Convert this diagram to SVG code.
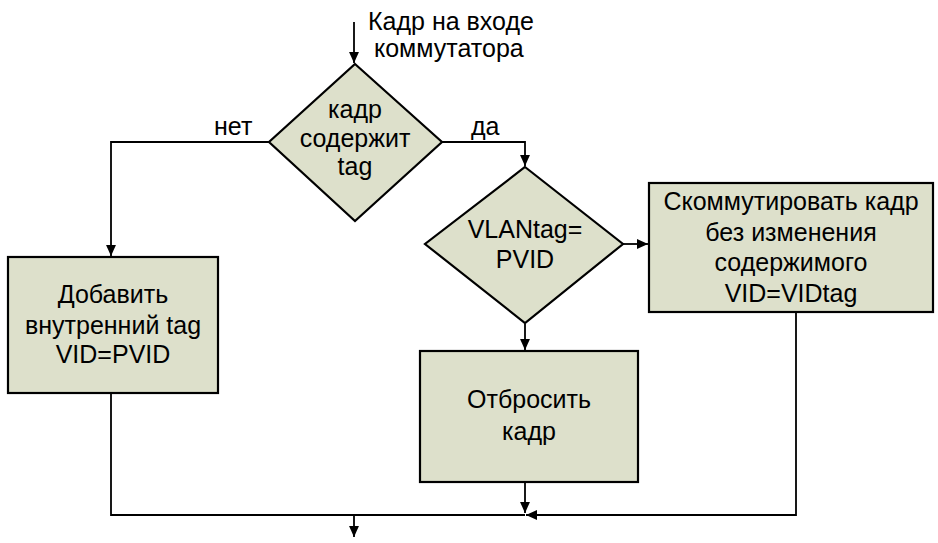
<svg xmlns="http://www.w3.org/2000/svg" width="938" height="543" viewBox="0 0 938 543">
  <style>
    .shape { fill: #dde0cb; stroke: #000; stroke-width: 2.2; }
    .line { fill: none; stroke: #000; stroke-width: 1.8; }
    text { font-family: "Liberation Sans", Arial, sans-serif; font-size: 25px; fill: #000; text-anchor: middle; }
    .lbl { text-anchor: start; }
  </style>
  <defs>
    <marker id="arrow" viewBox="0 0 10 10" refX="10" refY="5" markerWidth="11" markerHeight="11" markerUnits="userSpaceOnUse" orient="auto">
      <path d="M0,0.5 L10,5 L0,9.5 Z" fill="#000"/>
    </marker>
  </defs>

  <g id="connectors">
    <path class="line" d="M354,22 L354,63" marker-end="url(#arrow)"/>
    <path class="line" d="M269,142 L111,142 L111,256" marker-end="url(#arrow)"/>
    <path class="line" d="M442,142 L525,142 L525,166" marker-end="url(#arrow)"/>
    <path class="line" d="M623,244 L648,244" marker-end="url(#arrow)"/>
    <path class="line" d="M525,324 L525,350" marker-end="url(#arrow)"/>
    <path class="line" d="M525,483 L525,513" marker-end="url(#arrow)"/>
    <path class="line" d="M111,394 L111,515 L525,515"/>
    <path class="line" d="M796,313 L796,515 L526,515" marker-end="url(#arrow)"/>
    <path class="line" d="M354,515 L354,537" marker-end="url(#arrow)"/>
    <text class="lbl" x="214" y="135">нет</text>
    <text class="lbl" x="471" y="135">да</text>
  </g>

  <g id="start">
    <text class="lbl" x="368" y="30">Кадр на входе</text>
    <text class="lbl" x="374" y="57">коммутатора</text>
  </g>

  <g id="has-tag">
    <polygon class="shape" points="355,64 442,142 355,221 269,142"/>
    <text x="355" y="118">кадр</text>
    <text x="355" y="147">содержит</text>
    <text x="355" y="175">tag</text>
  </g>

  <g id="add-tag">
    <rect class="shape" x="8" y="257" width="210" height="136"/>
    <text x="113" y="303">Добавить</text>
    <text x="113" y="334">внутренний tag</text>
    <text x="113" y="363">VID=PVID</text>
  </g>

  <g id="vlan-check">
    <polygon class="shape" points="525,167 623,244 525,323 425,244"/>
    <text x="525" y="238">VLANtag=</text>
    <text x="525" y="268">PVID</text>
  </g>

  <g id="switch">
    <rect class="shape" x="649" y="183" width="284" height="129"/>
    <text x="791" y="210">Скоммутировать кадр</text>
    <text x="791" y="241">без изменения</text>
    <text x="791" y="271">содержимого</text>
    <text x="791" y="302">VID=VIDtag</text>
  </g>

  <g id="drop">
    <rect class="shape" x="420" y="351" width="218" height="131"/>
    <text x="529" y="408">Отбросить</text>
    <text x="529" y="440">кадр</text>
  </g>
</svg>
